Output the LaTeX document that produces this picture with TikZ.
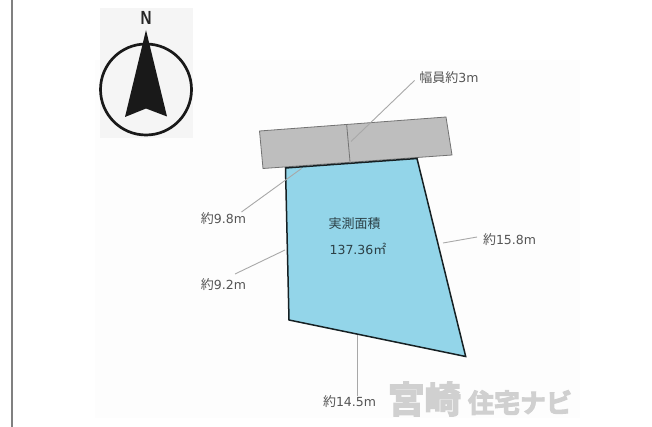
\documentclass[tikz,border=0pt]{standalone}
\usepackage{fontspec}
\setmainfont{Liberation Sans}
\newfontfamily\cjk{Noto Sans CJK JP}
\newfontfamily\cjkb[FakeBold=4]{Noto Sans CJK JP Bold}
\newfontfamily\dgt{DejaVu Sans}
\newcommand{\dnum}[1]{{\dgt\fontsize{12.5}{14}\selectfont #1}}
\definecolor{lotblue}{HTML}{93D5E9}
\definecolor{roadgray}{HTML}{BEBEBE}
\definecolor{leader}{HTML}{A8A8A8}
\definecolor{labeltext}{HTML}{555555}
\definecolor{mark}{HTML}{D0D0D0}
\tikzset{
  x=1pt,y=-1pt,
  dimlabel/.style={inner sep=0pt,text=labeltext,font=\cjk\fontsize{13}{15}\selectfont},
  arealabel/.style={inner sep=0pt,text=black!70!lotblue,font=\cjk\fontsize{13}{15}\selectfont},
  leaderline/.style={draw=leader,line width=0.9pt},
  roadedge/.style={draw=black!55,line width=0.8pt,fill=roadgray},
  lotedge/.style={draw=black!85!lotblue,line width=1.5pt,line join=miter,fill=lotblue},
  brand/.style={inner sep=0pt,text=mark}
}
\begin{document}
\begin{tikzpicture}
\useasboundingbox (0,0) rectangle (652,427);
\fill[white] (0,0) rectangle (652,427);
% frame line at left and faint panels
\draw[black!50,line width=2pt] (12,0) -- (12,427);
\fill[black!0.8] (95,60) rectangle (580,418);
\fill[black!4] (100,8) rectangle (193,138);
% compass
\draw[line width=2.7pt,black!90] (146,89.5) circle (45.5);
\fill[black!90] (146,30) -- (167,116.5) -- (146,108.5) -- (125,117) -- cycle;
\node[inner sep=0pt,text=black!85,font=\bfseries\fontsize{19}{19}\selectfont] (north) at (146,17.5) {\scalebox{0.8}[1]{N}};
% road
\coordinate (ra) at (259.5,131);
\coordinate (rb) at (446,117);
\coordinate (rc) at (452,155);
\coordinate (rd) at (263,168.5);
\coordinate (rt) at (346.7,125);
\coordinate (rm) at (350,161.7);
\draw[roadedge] (ra) -- (rb) -- (rc) -- (rd) -- cycle;
\draw[draw=black!55,line width=0.8pt] (rt) -- (rm);
% lot
\coordinate (la) at (285.5,168);
\coordinate (lb) at (417,158.5);
\coordinate (lc) at (465.7,356.5);
\coordinate (ld) at (289,320);
\draw[lotedge] (la) -- (lb) -- (lc) -- (ld) -- cycle;
% labels
\node[dimlabel] (w3) at (449,78) {幅員約\dnum{3m}};
\node[dimlabel] (l98) at (223.5,219) {約\dnum{9.8m}};
\node[dimlabel] (l92) at (223.5,285) {約\dnum{9.2m}};
\node[dimlabel] (l158) at (509.5,240) {約\dnum{15.8m}};
\node[dimlabel] (l145) at (349.5,402) {約\dnum{14.5m}};
\node[arealabel] (area1) at (354.5,224) {実測面積};
\node[arealabel] (area2) at (358,249) {\dnum{137.36}㎡};
% leaders
\coordinate (w3s) at (414.5,80.5);
\coordinate (w3e) at (351,141.5);
\coordinate (a98) at (301.5,168.5);
\coordinate (b98) at (241.5,212);
\coordinate (a92) at (285,250);
\coordinate (b92) at (235,274);
\coordinate (a158) at (443,243);
\coordinate (b158) at (477,237);
\coordinate (a145) at (357.5,335);
\coordinate (b145) at (357.5,396);
\draw[leaderline] (w3s) -- (w3e);
\draw[leaderline] (a98) -- (b98);
\draw[leaderline] (a92) -- (b92);
\draw[leaderline] (a158) -- (b158);
\draw[leaderline] (a145) -- (b145);
% watermark
\node[brand,font=\cjkb\fontsize{36.5}{36}\selectfont] (brand1) at (424.5,399) {宮崎};
\node[brand,font=\cjkb\fontsize{26}{26}\selectfont] (brand2) at (520,402.5) {住宅ナビ};
\end{tikzpicture}
\end{document}
